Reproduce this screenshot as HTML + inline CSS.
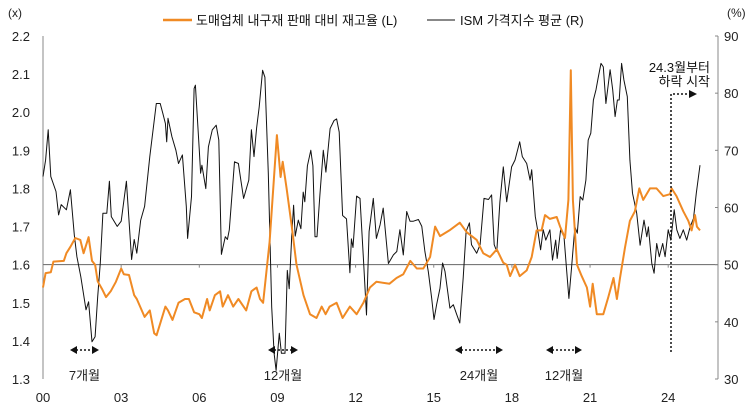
<!DOCTYPE html>
<html><head><meta charset="utf-8">
<style>
body{margin:0;background:#fff;font-family:"Liberation Sans","Noto Sans CJK KR",sans-serif;}
svg text{font-family:"Liberation Sans","Noto Sans CJK KR",sans-serif;}
</style></head>
<body>
<svg id="chart" width="754" height="409" viewBox="0 0 754 409" xmlns="http://www.w3.org/2000/svg">
  <g>
    <line x1="163" y1="20" x2="192" y2="20" stroke="#f08a24" stroke-width="2.5"/>
    <text x="196" y="25" font-size="13" fill="#111">도매업체 내구재 판매 대비 재고율 (L)</text>
    <line x1="427" y1="20" x2="455" y2="20" stroke="#111" stroke-width="1"/>
    <text x="460" y="25" font-size="13" fill="#111">ISM 가격지수 평균 (R)</text>
  </g>
  <text x="8" y="17" font-size="12" fill="#222">(x)</text>
  <text x="727" y="17" font-size="12" fill="#222">(%)</text>
  <g id="axes"></g>
  <g id="series"></g>
  <g id="annot"></g>
</svg>
<script>
const xTickLabels=["00","03","06","09","12","15","18","21","24"];
const xTickYears=[2000,2003,2006,2009,2012,2015,2018,2021,2024];
const leftTicks=[1.3,1.4,1.5,1.6,1.7,1.8,1.9,2.0,2.1,2.2];
const rightTicks=[30,40,50,60,70,80,90];

const invDates=[2000.0,2000.1,2000.3,2000.4,2000.8,2000.9,2001.05,2001.24,2001.43,2001.56,2001.75,2001.88,2002.0,2002.1,2002.26,2002.42,2002.6,2002.8,2003.0,2003.1,2003.3,2003.5,2003.6,2003.9,2004.1,2004.27,2004.36,2004.7,2004.8,2004.97,2005.2,2005.45,2005.6,2005.8,2006.0,2006.1,2006.3,2006.4,2006.6,2006.8,2006.9,2007.1,2007.3,2007.5,2007.8,2008.0,2008.2,2008.33,2008.45,2008.7,2008.98,2009.12,2009.2,2009.35,2009.55,2009.73,2010.0,2010.25,2010.5,2010.7,2010.85,2011.0,2011.27,2011.5,2011.78,2012.04,2012.3,2012.55,2012.8,2013.3,2013.57,2013.83,2014.1,2014.35,2014.6,2014.86,2015.05,2015.24,2015.6,2016.0,2016.27,2016.65,2016.9,2017.16,2017.42,2017.67,2017.8,2017.93,2018.12,2018.3,2018.57,2018.76,2018.95,2019.14,2019.27,2019.46,2019.72,2019.85,2020.04,2020.17,2020.26,2020.34,2020.5,2020.68,2020.88,2021.0,2021.1,2021.26,2021.51,2021.7,2021.9,2022.03,2022.15,2022.34,2022.53,2022.72,2022.89,2023.04,2023.3,2023.55,2023.81,2024.07,2024.13,2024.32,2024.58,2024.77,2024.9,2025.03,2025.1,2025.22];
const invValues=[1.54,1.578,1.58,1.608,1.61,1.63,1.647,1.67,1.665,1.63,1.672,1.61,1.60,1.556,1.537,1.515,1.53,1.555,1.59,1.575,1.573,1.52,1.51,1.463,1.48,1.42,1.415,1.49,1.48,1.455,1.50,1.51,1.51,1.475,1.47,1.46,1.51,1.48,1.52,1.53,1.49,1.52,1.49,1.51,1.48,1.53,1.54,1.51,1.50,1.66,1.94,1.83,1.87,1.80,1.70,1.60,1.52,1.47,1.46,1.49,1.47,1.49,1.50,1.46,1.49,1.47,1.50,1.54,1.555,1.55,1.565,1.575,1.61,1.59,1.59,1.62,1.70,1.675,1.69,1.71,1.685,1.665,1.63,1.62,1.64,1.605,1.60,1.57,1.60,1.57,1.585,1.62,1.69,1.69,1.73,1.72,1.725,1.70,1.67,1.77,2.11,1.77,1.60,1.57,1.54,1.49,1.55,1.47,1.47,1.515,1.565,1.51,1.565,1.645,1.715,1.74,1.80,1.77,1.80,1.80,1.78,1.785,1.80,1.78,1.74,1.715,1.69,1.73,1.70,1.69];

const ismDates=[2000.0,2000.1,2000.2,2000.3,2000.5,2000.6,2000.7,2000.9,2001.05,2001.2,2001.3,2001.45,2001.65,2001.75,2001.88,2002.0,2002.1,2002.2,2002.3,2002.45,2002.55,2002.62,2002.85,2003.0,2003.2,2003.4,2003.5,2003.6,2003.75,2003.9,2004.1,2004.35,2004.5,2004.6,2004.7,2004.75,2004.8,2004.95,2005.1,2005.2,2005.35,2005.5,2005.55,2005.7,2005.8,2005.85,2006.0,2006.05,2006.1,2006.25,2006.35,2006.5,2006.65,2006.75,2006.85,2007.0,2007.08,2007.15,2007.35,2007.5,2007.6,2007.7,2007.9,2008.0,2008.1,2008.2,2008.3,2008.43,2008.52,2008.65,2008.78,2008.87,2008.95,2009.07,2009.15,2009.29,2009.38,2009.45,2009.55,2009.62,2009.68,2009.8,2009.9,2009.99,2010.05,2010.15,2010.28,2010.36,2010.44,2010.52,2010.63,2010.76,2010.86,2011.02,2011.17,2011.27,2011.37,2011.5,2011.65,2011.78,2011.84,2011.9,2012.04,2012.17,2012.3,2012.42,2012.52,2012.68,2012.8,2012.94,2013.06,2013.26,2013.45,2013.58,2013.7,2013.83,2013.96,2014.09,2014.22,2014.41,2014.54,2014.66,2014.79,2014.92,2015.01,2015.11,2015.24,2015.34,2015.43,2015.62,2015.75,2015.88,2016.0,2016.13,2016.24,2016.37,2016.45,2016.65,2016.78,2016.93,2017.1,2017.22,2017.32,2017.42,2017.54,2017.67,2017.8,2017.99,2018.12,2018.3,2018.4,2018.57,2018.7,2018.76,2018.9,2019.01,2019.1,2019.2,2019.3,2019.46,2019.56,2019.68,2019.74,2019.87,2020.0,2020.1,2020.19,2020.29,2020.42,2020.51,2020.62,2020.72,2020.84,2020.93,2021.03,2021.13,2021.23,2021.32,2021.42,2021.51,2021.61,2021.77,2021.87,2021.96,2022.05,2022.12,2022.21,2022.3,2022.43,2022.53,2022.63,2022.79,2022.92,2023.07,2023.18,2023.24,2023.37,2023.46,2023.56,2023.66,2023.79,2023.88,2024.0,2024.1,2024.23,2024.33,2024.45,2024.58,2024.71,2024.84,2024.97,2025.08,2025.22];
const ismValues=[65.4,68.3,73.6,65.4,62.8,58.7,60.5,59.6,63.1,55.2,51.4,47.9,42.1,43.5,36.5,37.4,44.4,50.3,59.0,59.0,64.6,58.4,56.7,57.6,64.6,50.9,54.4,52.0,57.8,60.2,68.9,78.2,78.2,76.5,74.7,71.5,75.6,72.4,70.0,67.7,69.2,60.2,54.6,61.9,80.8,81.4,70.0,66.0,67.4,63.3,70.6,73.6,74.4,71.8,51.8,54.9,54.4,56.1,68.0,67.7,64.6,61.6,64.8,73.6,68.9,73.9,77.6,84.0,82.8,66.0,42.6,34.5,31.5,38.0,34.5,34.5,49.0,45.8,55.2,60.4,55.0,57.8,56.3,62.7,61.0,67.3,70.0,67.3,54.9,54.9,62.2,70.0,66.2,73.8,75.2,75.5,73.2,58.6,58.0,48.6,54.5,53.0,62.0,61.6,51.1,41.2,55.8,61.6,54.6,57.0,59.9,50.2,51.7,52.3,56.1,51.7,59.3,57.6,57.6,57.9,56.7,52.3,48.8,44.1,40.4,43.0,45.9,50.3,48.8,42.4,43.0,41.3,39.8,47.7,55.8,57.3,53.5,52.0,53.5,61.6,61.4,62.2,53.5,52.3,61.0,67.1,61.0,67.1,68.3,71.5,68.9,67.7,64.8,66.6,58.4,55.5,52.6,56.1,54.3,56.1,50.8,54.3,51.1,56.1,54.9,49.1,44.1,49.6,56.6,55.5,61.9,61.3,64.8,71.8,73.0,78.8,80.6,82.9,85.2,84.6,78.2,84.1,80.6,75.9,78.8,78.8,85.2,82.3,79.4,68.3,62.5,59.0,53.4,57.8,54.9,56.6,50.2,48.5,53.7,51.4,53.7,51.4,56.1,54.3,59.6,56.1,54.6,56.1,54.3,56.6,58.1,62.5,67.4];

const X0=43,X1=718,Y0=36,Y1=379;
const xScale=yr=>X0+(yr-2000)*26.05;
const yL=v=>Y1-(v-1.3)/0.9*(Y1-Y0);
const yR=v=>Y1-(v-30)/60*(Y1-Y0);
const NS="http://www.w3.org/2000/svg";
function mk(tag,attrs,parent){const e=document.createElementNS(NS,tag);for(const k in attrs)e.setAttribute(k,attrs[k]);parent.appendChild(e);return e;}
const axes=document.getElementById('axes');
let e;
e=mk('line',{x1:X0,y1:Y0,x2:X0,y2:Y1,stroke:'#888','stroke-width':1},axes);


e=mk('line',{x1:X1,y1:Y0,x2:X1,y2:Y1,stroke:'#888','stroke-width':1},axes);


e=mk('line',{x1:X0,y1:yL(1.6),x2:X1,y2:yL(1.6),stroke:'#666','stroke-width':1},axes);


leftTicks.forEach(v=>{
  const t=mk('text',{x:30,y:yL(v)+5,'font-size':13,'text-anchor':'end',fill:'#222'},axes);
  t.textContent=v.toFixed(1);
  
  
});
rightTicks.forEach(v=>{
  const l=mk('line',{x1:X1-3,y1:yR(v),x2:X1,y2:yR(v),stroke:'#888'},axes);
  
  
  const t=mk('text',{x:724,y:yR(v)+5,'font-size':13,fill:'#222'},axes);
  t.textContent=v;
  
  
});
xTickYears.forEach((yr,i)=>{
  const l=mk('line',{x1:xScale(yr),y1:yL(1.6),x2:xScale(yr),y2:yL(1.6)+3,stroke:'#888'},axes);
  
  
  const t=mk('text',{x:xScale(yr),y:402,'font-size':13,'text-anchor':'middle',fill:'#222'},axes);
  t.textContent=xTickLabels[i];
  
  
});
const series=document.getElementById('series');
const ismPts=ismDates.map((d,i)=>xScale(d).toFixed(1)+','+yR(ismValues[i]).toFixed(1)).join(' ');
e=mk('polyline',{points:ismPts,fill:'none',stroke:'#111','stroke-width':1,'stroke-linejoin':'round'},series);


const invPts=invDates.map((d,i)=>xScale(d).toFixed(1)+','+yL(invValues[i]).toFixed(1)).join(' ');
e=mk('polyline',{points:invPts,fill:'none',stroke:'#f08a24','stroke-width':2,'stroke-linejoin':'round'},series);



const an=document.getElementById('annot');
function darrow(x1,x2,y,label,name){
  const g=mk('g',{},an);
  
  
  mk('line',{x1:x1+6,y1:y,x2:x2-6,y2:y,stroke:'#111','stroke-width':1.5,'stroke-dasharray':'2,2'},g);
  mk('polygon',{points:`${x1},${y} ${x1+7},${y-4} ${x1+7},${y+4}`,fill:'#111'},g);
  mk('polygon',{points:`${x2},${y} ${x2-7},${y-4} ${x2-7},${y+4}`,fill:'#111'},g);
  const t=mk('text',{x:(x1+x2)/2,y:y+30,'font-size':13,'text-anchor':'middle',fill:'#222'},g);
  t.textContent=label;
}
darrow(70,99,350,'7개월','lag-arrow-7m');
darrow(268,298,350,'12개월','lag-arrow-12m-2009');
darrow(455,503,350,'24개월','lag-arrow-24m');
darrow(546,582,350,'12개월','lag-arrow-12m-2020');
e=mk('polyline',{points:'671,352 671,94 690,94',fill:'none',stroke:'#111','stroke-width':1.5,'stroke-dasharray':'2,2'},an);


e=mk('polygon',{points:'697,94 689,90 689,98',fill:'#111'},an);


e=mk('text',{x:710,y:72,'font-size':13,'text-anchor':'end',fill:'#111'},an);
e.textContent='24.3월부터';


e=mk('text',{x:710,y:86,'font-size':13,'text-anchor':'end',fill:'#111'},an);
e.textContent='하락 시작';


</script>
</body></html>
